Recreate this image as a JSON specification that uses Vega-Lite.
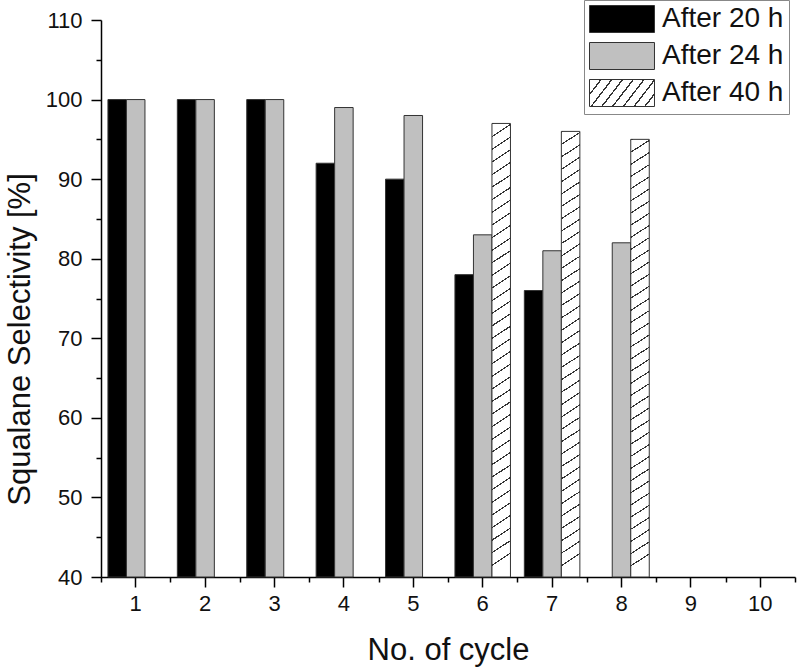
{
  "$schema": "https://vega.github.io/schema/vega-lite/v6.json",
  "width": 694,
  "height": 557,
  "autosize": {"type": "none"},
  "padding": {"left": 101, "top": 20, "right": 5, "bottom": 91},
  "background": "white",
  "config": {"view": {"stroke": null}, "font": "Liberation Sans", "axis": {"grid": false}},
  "data": {
    "values": [
      {"cycle": 1, "series": "After 20 h", "value": 100},
      {"cycle": 1, "series": "After 24 h", "value": 100},
      {"cycle": 2, "series": "After 20 h", "value": 100},
      {"cycle": 2, "series": "After 24 h", "value": 100},
      {"cycle": 3, "series": "After 20 h", "value": 100},
      {"cycle": 3, "series": "After 24 h", "value": 100},
      {"cycle": 4, "series": "After 20 h", "value": 92},
      {"cycle": 4, "series": "After 24 h", "value": 99},
      {"cycle": 5, "series": "After 20 h", "value": 90},
      {"cycle": 5, "series": "After 24 h", "value": 98},
      {"cycle": 6, "series": "After 20 h", "value": 78},
      {"cycle": 6, "series": "After 24 h", "value": 83},
      {"cycle": 6, "series": "After 40 h", "value": 97},
      {"cycle": 7, "series": "After 20 h", "value": 76},
      {"cycle": 7, "series": "After 24 h", "value": 81},
      {"cycle": 7, "series": "After 40 h", "value": 96},
      {"cycle": 8, "series": "After 24 h", "value": 82},
      {"cycle": 8, "series": "After 40 h", "value": 95}
    ]
  },
  "layer": [
    {
      "transform": [{"filter": "datum.series !== 'After 40 h'"}],
      "mark": {"type": "bar", "strokeWidth": 1},
      "encoding": {
        "x": {
          "field": "cycle", "type": "ordinal",
          "scale": {"domain": [1, 2, 3, 4, 5, 6, 7, 8, 9, 10], "paddingInner": 0, "paddingOuter": 0},
          "axis": {"orient": "bottom", "title": "No. of cycle", "labelAngle": 0, "tickSize": 10, "tickWidth": 1.5, "tickColor": "#000000", "domainColor": "#000000", "domainWidth": 1.5, "labelFontSize": 22, "labelColor": "#111111", "labelPadding": 6, "titleFontSize": 31, "titleFontWeight": "normal", "titleColor": "#111111", "titlePadding": 21}
        },
        "xOffset": {
          "field": "series", "type": "nominal",
          "scale": {"domain": ["After 20 h", "After 24 h", "After 40 h"], "paddingInner": 0, "paddingOuter": 0.375}
        },
        "y": {
          "field": "value", "type": "quantitative",
          "scale": {"domain": [40, 110], "zero": false, "nice": false},
          "axis": {
            "values": [40, 45, 50, 55, 60, 65, 70, 75, 80, 85, 90, 95, 100, 105, 110],
            "labelExpr": "datum.value % 10 === 0 ? datum.label : ''",
            "tickSize": {"condition": {"test": "datum.value % 10 !== 0", "value": 5}, "value": 10},
            "tickWidth": 1.5, "tickColor": "#000000", "domainColor": "#000000", "domainWidth": 1.5,
            "labelFontSize": 22, "labelColor": "#111111", "labelPadding": 9,
            "title": "Squalane Selectivity [%]", "titleFontSize": 31, "titleFontWeight": "normal", "titleColor": "#111111", "titlePadding": 9, "titleY": 319
          }
        },
        "y2": {"datum": 40},
        "color": {
          "condition": {"test": "datum.series === 'After 24 h'", "value": "#c0c0c0"},
          "value": "#000000"
        },
        "stroke": {
          "field": "series", "type": "nominal",
          "scale": {"domain": ["After 20 h", "After 24 h", "After 40 h"], "range": ["#333333", "#333333", "#333333"]},
          "legend": {
            "title": null, "orient": "none", "legendX": 483, "legendY": -20, "padding": 5,
            "strokeColor": "#888888", "fillColor": "#ffffff",
            "symbolType": "M-2.407,-1H2.407V1H-2.407Z", "symbolSize": 729, "symbolOffset": 19,
            "symbolStrokeWidth": 1,
            "labelFontSize": 28, "labelColor": "#111111", "labelOffset": 26, "rowPadding": 5, "labelFont": "Liberation Sans",
            "encoding": {
              "symbols": {
                "strokeWidth": {"value": 1},
                "fill": {"value": {"expr": "datum.value === 'After 40 h' ? {gradient: 'linear', x1: 0, y1: 0, x2: 1.2, y2: 0.384, stops: [{offset: 0, color: '#333333'}, {offset: 0.02, color: '#333333'}, {offset: 0.02, color: '#ffffff'}, {offset: 0.125, color: '#ffffff'}, {offset: 0.125, color: '#333333'}, {offset: 0.145, color: '#333333'}, {offset: 0.145, color: '#ffffff'}, {offset: 0.25, color: '#ffffff'}, {offset: 0.25, color: '#333333'}, {offset: 0.27, color: '#333333'}, {offset: 0.27, color: '#ffffff'}, {offset: 0.375, color: '#ffffff'}, {offset: 0.375, color: '#333333'}, {offset: 0.395, color: '#333333'}, {offset: 0.395, color: '#ffffff'}, {offset: 0.5, color: '#ffffff'}, {offset: 0.5, color: '#333333'}, {offset: 0.52, color: '#333333'}, {offset: 0.52, color: '#ffffff'}, {offset: 0.625, color: '#ffffff'}, {offset: 0.625, color: '#333333'}, {offset: 0.645, color: '#333333'}, {offset: 0.645, color: '#ffffff'}, {offset: 0.75, color: '#ffffff'}, {offset: 0.75, color: '#333333'}, {offset: 0.77, color: '#333333'}, {offset: 0.77, color: '#ffffff'}, {offset: 0.875, color: '#ffffff'}, {offset: 0.875, color: '#333333'}, {offset: 0.895, color: '#333333'}, {offset: 0.895, color: '#ffffff'}, {offset: 1, color: '#ffffff'}]} : (datum.value === 'After 24 h' ? '#c0c0c0' : '#000000')"}}
              }
            }
          }
        }
      }
    },
    {
      "transform": [{"filter": "datum.series === 'After 40 h'"}],
      "mark": {
        "type": "bar", "stroke": "#333333", "strokeWidth": 1,
        "fill": {"gradient": "linear", "x1": 0, "y1": 0, "x2": 0.027, "y2": 1, "stops": [
          {"offset": 0, "color": "#333333"}, {"offset": 0.003, "color": "#333333"}, {"offset": 0.003, "color": "#ffffff"}, {"offset": 0.02778, "color": "#ffffff"},
          {"offset": 0.02778, "color": "#333333"}, {"offset": 0.03078, "color": "#333333"}, {"offset": 0.03078, "color": "#ffffff"}, {"offset": 0.05556, "color": "#ffffff"},
          {"offset": 0.05556, "color": "#333333"}, {"offset": 0.05856, "color": "#333333"}, {"offset": 0.05856, "color": "#ffffff"}, {"offset": 0.08333, "color": "#ffffff"},
          {"offset": 0.08333, "color": "#333333"}, {"offset": 0.08633, "color": "#333333"}, {"offset": 0.08633, "color": "#ffffff"}, {"offset": 0.11111, "color": "#ffffff"},
          {"offset": 0.11111, "color": "#333333"}, {"offset": 0.11411, "color": "#333333"}, {"offset": 0.11411, "color": "#ffffff"}, {"offset": 0.13889, "color": "#ffffff"},
          {"offset": 0.13889, "color": "#333333"}, {"offset": 0.14189, "color": "#333333"}, {"offset": 0.14189, "color": "#ffffff"}, {"offset": 0.16667, "color": "#ffffff"},
          {"offset": 0.16667, "color": "#333333"}, {"offset": 0.16967, "color": "#333333"}, {"offset": 0.16967, "color": "#ffffff"}, {"offset": 0.19444, "color": "#ffffff"},
          {"offset": 0.19444, "color": "#333333"}, {"offset": 0.19744, "color": "#333333"}, {"offset": 0.19744, "color": "#ffffff"}, {"offset": 0.22222, "color": "#ffffff"},
          {"offset": 0.22222, "color": "#333333"}, {"offset": 0.22522, "color": "#333333"}, {"offset": 0.22522, "color": "#ffffff"}, {"offset": 0.25, "color": "#ffffff"},
          {"offset": 0.25, "color": "#333333"}, {"offset": 0.253, "color": "#333333"}, {"offset": 0.253, "color": "#ffffff"}, {"offset": 0.27778, "color": "#ffffff"},
          {"offset": 0.27778, "color": "#333333"}, {"offset": 0.28078, "color": "#333333"}, {"offset": 0.28078, "color": "#ffffff"}, {"offset": 0.30556, "color": "#ffffff"},
          {"offset": 0.30556, "color": "#333333"}, {"offset": 0.30856, "color": "#333333"}, {"offset": 0.30856, "color": "#ffffff"}, {"offset": 0.33333, "color": "#ffffff"},
          {"offset": 0.33333, "color": "#333333"}, {"offset": 0.33633, "color": "#333333"}, {"offset": 0.33633, "color": "#ffffff"}, {"offset": 0.36111, "color": "#ffffff"},
          {"offset": 0.36111, "color": "#333333"}, {"offset": 0.36411, "color": "#333333"}, {"offset": 0.36411, "color": "#ffffff"}, {"offset": 0.38889, "color": "#ffffff"},
          {"offset": 0.38889, "color": "#333333"}, {"offset": 0.39189, "color": "#333333"}, {"offset": 0.39189, "color": "#ffffff"}, {"offset": 0.41667, "color": "#ffffff"},
          {"offset": 0.41667, "color": "#333333"}, {"offset": 0.41967, "color": "#333333"}, {"offset": 0.41967, "color": "#ffffff"}, {"offset": 0.44444, "color": "#ffffff"},
          {"offset": 0.44444, "color": "#333333"}, {"offset": 0.44744, "color": "#333333"}, {"offset": 0.44744, "color": "#ffffff"}, {"offset": 0.47222, "color": "#ffffff"},
          {"offset": 0.47222, "color": "#333333"}, {"offset": 0.47522, "color": "#333333"}, {"offset": 0.47522, "color": "#ffffff"}, {"offset": 0.5, "color": "#ffffff"},
          {"offset": 0.5, "color": "#333333"}, {"offset": 0.503, "color": "#333333"}, {"offset": 0.503, "color": "#ffffff"}, {"offset": 0.52778, "color": "#ffffff"},
          {"offset": 0.52778, "color": "#333333"}, {"offset": 0.53078, "color": "#333333"}, {"offset": 0.53078, "color": "#ffffff"}, {"offset": 0.55556, "color": "#ffffff"},
          {"offset": 0.55556, "color": "#333333"}, {"offset": 0.55856, "color": "#333333"}, {"offset": 0.55856, "color": "#ffffff"}, {"offset": 0.58333, "color": "#ffffff"},
          {"offset": 0.58333, "color": "#333333"}, {"offset": 0.58633, "color": "#333333"}, {"offset": 0.58633, "color": "#ffffff"}, {"offset": 0.61111, "color": "#ffffff"},
          {"offset": 0.61111, "color": "#333333"}, {"offset": 0.61411, "color": "#333333"}, {"offset": 0.61411, "color": "#ffffff"}, {"offset": 0.63889, "color": "#ffffff"},
          {"offset": 0.63889, "color": "#333333"}, {"offset": 0.64189, "color": "#333333"}, {"offset": 0.64189, "color": "#ffffff"}, {"offset": 0.66667, "color": "#ffffff"},
          {"offset": 0.66667, "color": "#333333"}, {"offset": 0.66967, "color": "#333333"}, {"offset": 0.66967, "color": "#ffffff"}, {"offset": 0.69444, "color": "#ffffff"},
          {"offset": 0.69444, "color": "#333333"}, {"offset": 0.69744, "color": "#333333"}, {"offset": 0.69744, "color": "#ffffff"}, {"offset": 0.72222, "color": "#ffffff"},
          {"offset": 0.72222, "color": "#333333"}, {"offset": 0.72522, "color": "#333333"}, {"offset": 0.72522, "color": "#ffffff"}, {"offset": 0.75, "color": "#ffffff"},
          {"offset": 0.75, "color": "#333333"}, {"offset": 0.753, "color": "#333333"}, {"offset": 0.753, "color": "#ffffff"}, {"offset": 0.77778, "color": "#ffffff"},
          {"offset": 0.77778, "color": "#333333"}, {"offset": 0.78078, "color": "#333333"}, {"offset": 0.78078, "color": "#ffffff"}, {"offset": 0.80556, "color": "#ffffff"},
          {"offset": 0.80556, "color": "#333333"}, {"offset": 0.80856, "color": "#333333"}, {"offset": 0.80856, "color": "#ffffff"}, {"offset": 0.83333, "color": "#ffffff"},
          {"offset": 0.83333, "color": "#333333"}, {"offset": 0.83633, "color": "#333333"}, {"offset": 0.83633, "color": "#ffffff"}, {"offset": 0.86111, "color": "#ffffff"},
          {"offset": 0.86111, "color": "#333333"}, {"offset": 0.86411, "color": "#333333"}, {"offset": 0.86411, "color": "#ffffff"}, {"offset": 0.88889, "color": "#ffffff"},
          {"offset": 0.88889, "color": "#333333"}, {"offset": 0.89189, "color": "#333333"}, {"offset": 0.89189, "color": "#ffffff"}, {"offset": 0.91667, "color": "#ffffff"},
          {"offset": 0.91667, "color": "#333333"}, {"offset": 0.91967, "color": "#333333"}, {"offset": 0.91967, "color": "#ffffff"}, {"offset": 0.94444, "color": "#ffffff"},
          {"offset": 0.94444, "color": "#333333"}, {"offset": 0.94744, "color": "#333333"}, {"offset": 0.94744, "color": "#ffffff"}, {"offset": 0.97222, "color": "#ffffff"},
          {"offset": 0.97222, "color": "#333333"}, {"offset": 0.97522, "color": "#333333"}, {"offset": 0.97522, "color": "#ffffff"}, {"offset": 1, "color": "#ffffff"}
        ]}
      },
      "encoding": {
        "x": {
          "field": "cycle", "type": "ordinal",
          "scale": {"domain": [1, 2, 3, 4, 5, 6, 7, 8, 9, 10], "paddingInner": 0, "paddingOuter": 0},
          "axis": {"orient": "bottom", "tickBand": "extent", "labels": false, "domain": false, "title": null, "tickSize": 5, "tickWidth": 1.5, "tickColor": "#000000"}
        },
        "xOffset": {
          "field": "series", "type": "nominal",
          "scale": {"domain": ["After 20 h", "After 24 h", "After 40 h"], "paddingInner": 0, "paddingOuter": 0.375}
        },
        "y": {
          "field": "value", "type": "quantitative",
          "scale": {"domain": [40, 110], "zero": false, "nice": false},
          "axis": {
            "values": [40, 45, 50, 55, 60, 65, 70, 75, 80, 85, 90, 95, 100, 105, 110],
            "labelExpr": "datum.value % 10 === 0 ? datum.label : ''",
            "tickSize": {"condition": {"test": "datum.value % 10 !== 0", "value": 5}, "value": 10},
            "tickWidth": 1.5, "tickColor": "#000000", "domainColor": "#000000", "domainWidth": 1.5,
            "labelFontSize": 22, "labelColor": "#111111", "labelPadding": 9,
            "title": "Squalane Selectivity [%]", "titleFontSize": 31, "titleFontWeight": "normal", "titleColor": "#111111", "titlePadding": 9, "titleY": 319
          }
        },
        "y2": {"datum": 40}
      }
    }
  ],
  "resolve": {"axis": {"x": "independent"}}
}
